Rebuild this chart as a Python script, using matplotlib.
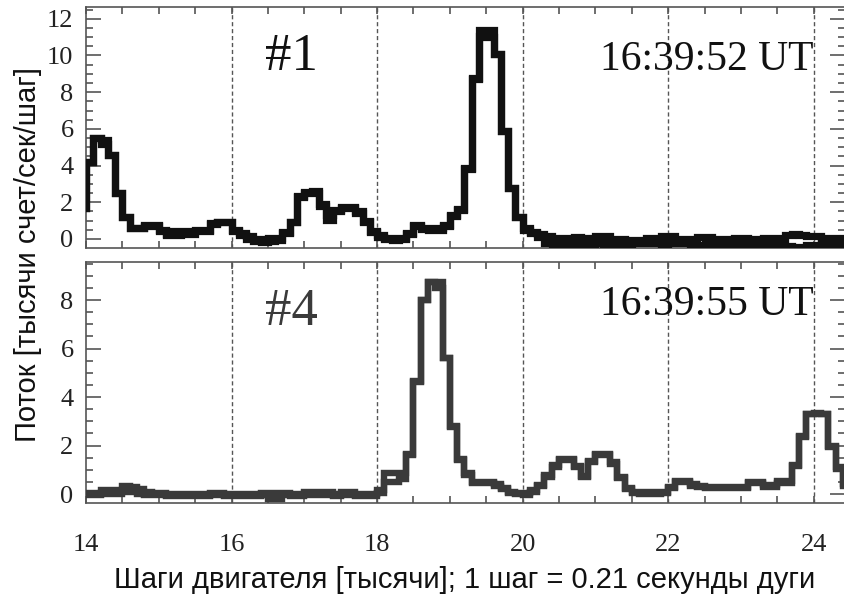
#!/usr/bin/env python3
# -*- coding: utf-8 -*-
"""
Профили потока вдоль скана (два момента времени, #1 и #4).
Каждый профиль — две наложенные ступенчатые кривые (бины по 100 шагов).
"""
import numpy as np
import matplotlib
matplotlib.use("Agg")
import matplotlib.pyplot as plt
from matplotlib.ticker import MultipleLocator

# ───────────────────────────────────────────────────────────────────────
# Данные: поток [тыс. счет/сек/шаг] в бинах шириной 0.1 тыс. шагов,
# первый бин начинается с 13.9
# ───────────────────────────────────────────────────────────────────────
BIN_START = 13.9
BIN_WIDTH = 0.1

flux1_a = [
    1.7,
    4.2, 5.5, 5.4, 4.6, 2.5, 1.2, 0.6, 0.6, 0.75, 0.75,
    0.5, 0.25, 0.45, 0.45, 0.45, 0.5, 0.5, 0.85, 0.95, 0.95,
    0.5, 0.3, 0.15, 0.0, 0.0, 0.05, 0.05, 0.4, 0.95, 2.35,
    2.55, 2.6, 1.9, 1.3, 1.6, 1.75, 1.75, 1.5, 1.0, 0.45,
    0.2, 0.05, 0.05, 0.05, 0.3, 0.75, 0.6, 0.6, 0.6, 0.75,
    1.3, 1.65, 3.85, 8.75, 11.4, 11.4, 10.1, 5.9, 2.8, 1.2,
    0.6, 0.4, 0.25, 0.15, 0.05, 0.05, 0.05, 0.1, 0.05, 0.0,
    0.15, 0.15, 0.0, 0.0, -0.05, -0.05, -0.05, 0.05, 0.05, 0.15,
    0.15, 0.0, 0.0, 0.0, 0.1, 0.1, 0.0, 0.0, 0.0, 0.05,
    0.05, 0.0, 0.0, 0.05, 0.05, 0.05, 0.2, 0.25, 0.2, 0.15,
    0.15, 0.05, 0.05, -0.05, 0.05,
]
flux1_b = [
    1.7,
    4.2, 5.5, 5.15, 4.6, 2.5, 1.2, 0.6, 0.6, 0.7, 0.7,
    0.45, 0.2, 0.2, 0.25, 0.25, 0.45, 0.45, 0.8, 0.9, 0.9,
    0.45, 0.2, 0.0, -0.1, -0.15, -0.1, -0.05, 0.3, 0.9, 2.3,
    2.5, 2.5, 1.8, 1.05, 1.5, 1.7, 1.7, 1.4, 0.95, 0.4,
    0.1, 0.0, -0.05, 0.0, 0.25, 0.7, 0.55, 0.5, 0.5, 0.7,
    1.25, 1.6, 3.8, 8.7, 11.05, 11.0, 10.1, 5.9, 2.8, 1.2,
    0.5, 0.3, 0.1, -0.2, -0.3, -0.2, -0.3, -0.3, -0.2, -0.3,
    -0.2, -0.3, -0.2, -0.3, -0.3, -0.2, -0.2, -0.2, -0.2, -0.3,
    -0.2, -0.2, -0.2, -0.3, -0.3, -0.2, -0.3, -0.3, -0.3, -0.3,
    -0.2, -0.3, -0.3, -0.3, -0.2, -0.3, -0.4, -0.45, -0.45, -0.3,
    -0.3, -0.2, -0.3, -0.3, -0.2,
]

flux4_a = [
    0.05,
    0.05, 0.05, 0.15, 0.15, 0.15, 0.35, 0.3, 0.2, 0.1, 0.05,
    0.05, 0.0, 0.0, 0.0, 0.0, 0.0, 0.0, 0.05, 0.05, -0.02,
    -0.02, -0.02, -0.02, 0.0, 0.05, 0.05, 0.05, 0.05, 0.0, 0.0,
    0.08, 0.08, 0.08, 0.08, 0.0, 0.1, 0.1, 0.0, 0.0, 0.0,
    0.18, 0.85, 0.85, 0.85, 1.65, 4.65, 8.0, 8.75, 8.75, 5.6,
    2.8, 1.45, 0.85, 0.5, 0.5, 0.5, 0.4, 0.25, 0.1, 0.05,
    0.05, 0.15, 0.38, 0.8, 1.2, 1.45, 1.45, 1.15, 0.75, 1.35,
    1.65, 1.65, 1.3, 0.7, 0.25, 0.1, 0.08, 0.08, 0.08, 0.1,
    0.3, 0.55, 0.55, 0.4, 0.35, 0.3, 0.3, 0.3, 0.3, 0.3,
    0.3, 0.5, 0.5, 0.38, 0.38, 0.52, 0.52, 1.2, 2.4, 3.3,
    3.35, 3.3, 2.0, 1.1, 0.4,
]
flux4_b = [
    -0.05,
    -0.05, -0.05, 0.0, 0.0, 0.0, 0.1, 0.1, 0.0, -0.05, -0.05,
    -0.05, -0.1, -0.1, -0.1, -0.1, -0.1, -0.1, -0.05, -0.05, -0.1,
    -0.1, -0.1, -0.1, -0.1, -0.05, -0.2, -0.2, -0.05, -0.1, -0.1,
    -0.05, -0.05, -0.05, -0.05, -0.1, -0.05, -0.05, -0.1, -0.1, -0.1,
    0.05, 0.5, 0.5, 0.6, 1.6, 4.6, 8.0, 8.75, 8.5, 5.6,
    2.75, 1.4, 0.8, 0.45, 0.45, 0.45, 0.35, 0.2, 0.05, 0.0,
    -0.05, 0.1, 0.35, 0.7, 1.1, 1.4, 1.4, 1.1, 0.7, 1.3,
    1.6, 1.6, 1.25, 0.65, 0.2, 0.05, 0.0, 0.0, 0.0, 0.05,
    0.25, 0.5, 0.5, 0.35, 0.3, 0.25, 0.25, 0.25, 0.25, 0.25,
    0.25, 0.45, 0.45, 0.3, 0.3, 0.45, 0.45, 1.15, 2.35, 3.3,
    3.3, 3.3, 1.95, 1.05, 0.35,
]

GUIDE_STEPS = [16, 18, 20, 22, 24]
LABELS = ["#1", "#4"]
TIMES = ["16:39:52 UT", "16:39:55 UT"]

Y_LABEL = "Поток [тысячи счет/сек/шаг]"
X_LABEL = "Шаги двигателя [тысячи]; 1 шаг = 0.21 секунды дуги"

SERIF = "Liberation Serif"
SANS = "Liberation Sans"
AXIS_GRAY = "#555555"

edges = BIN_START + BIN_WIDTH * np.arange(len(flux1_a) + 1)

# ───────────────────────────────────────────────────────────────────────
# Рисунок
# ───────────────────────────────────────────────────────────────────────
fig = plt.figure(figsize=(8.45, 5.98), dpi=100)
ax1 = fig.add_axes([0.1018, 0.5853, 0.8982, 0.4030])
ax4 = fig.add_axes([0.1018, 0.1589, 0.8982, 0.4030])

panels = [
    (ax1, flux1_a, flux1_b, "#111111", 5.2, (-0.49, 12.64), LABELS[0], "#111111",
     TIMES[0], 9.2, 9.2),
    (ax4, flux4_a, flux4_b, "#3a3a3a", 4.6, (-0.37, 9.57), LABELS[1], "#3a3a3a",
     TIMES[1], 6.97, 7.38),
]

for ax, fa, fb, col, lw, ylim, lab, lab_col, tstr, lab_y, t_y in panels:
    for xg in GUIDE_STEPS:
        ax.axvline(xg, color=AXIS_GRAY, lw=1.0, ls=(0, (3, 2)), zorder=1)

    for vals in (fa, fb):
        ax.stairs(vals, edges, baseline=None, color=col, lw=lw,
                  joinstyle="miter", zorder=3)

    ax.set_xlim(14.0, 24.43)
    ax.set_ylim(*ylim)

    ax.xaxis.set_major_locator(MultipleLocator(2))
    ax.xaxis.set_minor_locator(MultipleLocator(0.5))
    ax.yaxis.set_major_locator(MultipleLocator(2))
    ax.yaxis.set_minor_locator(MultipleLocator(0.5))

    ax.tick_params(axis="x", which="both", direction="in", top=True,
                   bottom=True, length=5, width=1.2, color=AXIS_GRAY)
    ax.tick_params(axis="y", which="major", direction="in", left=True,
                   right=True, length=11, width=1.2, color=AXIS_GRAY)
    ax.tick_params(axis="y", which="minor", direction="in", left=True,
                   right=True, length=5, width=1.2, color=AXIS_GRAY)
    ax.tick_params(axis="y", labelsize=19, pad=9, labelcolor="#222222")

    for s in ax.spines.values():
        s.set_color(AXIS_GRAY)
        s.set_linewidth(1.2)

    for t in ax.get_yticklabels():
        t.set_fontfamily(SERIF)

    ax.text(16.82, lab_y, lab, ha="center", va="baseline",
            fontsize=38, family=SERIF, color=lab_col, zorder=4)
    ax.text(21.07, t_y, tstr, ha="left", va="baseline",
            fontsize=30, family=SERIF, color="#111111", zorder=4)

ax1.tick_params(axis="x", labelbottom=False)
ax4.tick_params(axis="x", labelsize=19, pad=22, labelcolor="#222222")
for t in ax4.get_xticklabels():
    t.set_fontfamily(SERIF)

fig.text(0.033, 0.574, Y_LABEL, rotation=90, ha="center", va="center",
         fontsize=21, family=SANS, color="#111111")
fig.text(0.55, 0.030, X_LABEL, ha="center", va="center",
         fontsize=21, family=SANS, color="#111111")

fig.savefig("out.png", dpi=100)
